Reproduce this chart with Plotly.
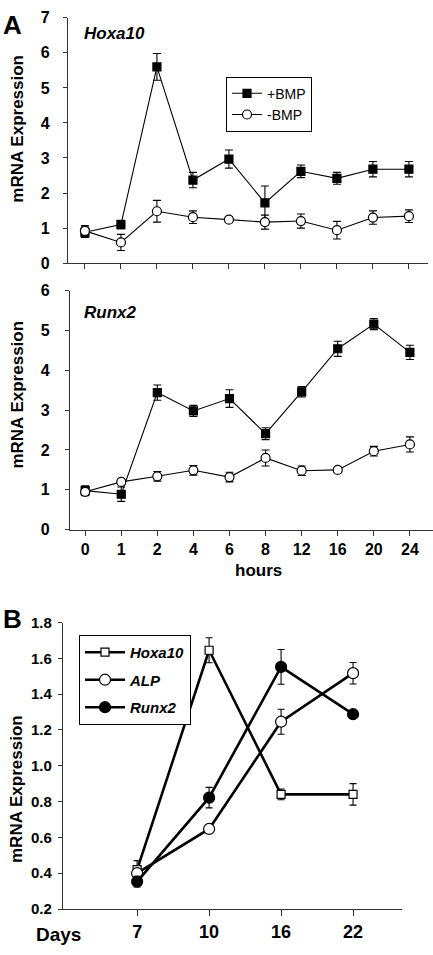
import plotly.graph_objects as go

W, H = 433, 955

# ---------------- data ----------------
hours = ["0", "1", "2", "4", "6", "8", "12", "16", "20", "24"]

hoxa_plus = [0.88, 1.1, 5.6, 2.37, 2.97, 1.72, 2.62, 2.42, 2.68, 2.68]
hoxa_plus_err = [0.15, 0.12, 0.38, 0.22, 0.26, 0.48, 0.18, 0.17, 0.22, 0.22]
hoxa_minus = [0.92, 0.59, 1.48, 1.31, 1.24, 1.17, 1.2, 0.94, 1.3, 1.34]
hoxa_minus_err = [0.15, 0.23, 0.31, 0.18, 0.08, 0.2, 0.2, 0.25, 0.19, 0.18]

runx_plus = [0.98, 0.89, 3.44, 2.98, 3.29, 2.41, 3.46, 4.54, 5.16, 4.45]
runx_plus_err = [0.12, 0.18, 0.19, 0.14, 0.22, 0.15, 0.13, 0.19, 0.14, 0.18]
runx_minus = [0.95, 1.2, 1.34, 1.49, 1.32, 1.8, 1.48, 1.5, 1.97, 2.14]
runx_minus_err = [0.1, 0.05, 0.12, 0.12, 0.12, 0.2, 0.12, 0.06, 0.12, 0.19]

days = ["7", "10", "16", "22"]
b_hoxa = [0.42, 1.645, 0.84, 0.84]
b_hoxa_err = [0.05, 0.07, 0.03, 0.06]
b_alp = [0.40, 0.647, 1.246, 1.517]
b_alp_err = [0.02, 0.01, 0.07, 0.06]
b_runx = [0.353, 0.822, 1.552, 1.288]
b_runx_err = [0.03, 0.057, 0.097, 0.0]

FONT = "Liberation Sans, Arial, sans-serif"
AX = "#333333"


def px_x(p):
    return p / W


def px_y(p):
    return 1 - p / H


fig = go.Figure()


def add(x, y, err, name, symbol, fill, xa, ya, legend, lw, ms, cap,
        showlegend=True, group=None):
    fig.add_trace(go.Scatter(
        x=x, y=y, name=name, xaxis=xa, yaxis=ya, legend=legend,
        mode="lines+markers", showlegend=showlegend, legendgroup=group,
        line=dict(color="black", width=lw),
        marker=dict(symbol=symbol, size=ms, color=fill,
                    line=dict(color="black", width=1.2)),
        error_y=dict(type="data", array=err, visible=True, color="black",
                     thickness=1.1, width=cap),
        cliponaxis=False,
    ))


# Panel A top (Hoxa10)
add(hours, hoxa_plus, hoxa_plus_err, "+BMP", "square", "black", "x", "y", "legend", 1.1, 8, 4)
add(hours, hoxa_minus, hoxa_minus_err, "-BMP", "circle", "white", "x", "y", "legend", 1.1, 9, 4)
# Panel A middle (Runx2)
add(hours, runx_plus, runx_plus_err, "+BMP", "square", "black", "x2", "y2", "legend", 1.1, 8, 4, False)
add(hours, runx_minus, runx_minus_err, "-BMP", "circle", "white", "x2", "y2", "legend", 1.1, 9, 4, False)
# Panel B
add(days, b_hoxa, b_hoxa_err, "<b><i>Hoxa10</i></b>", "square", "white", "x3", "y3", "legend2", 2.6, 8, 3.5, group="h")
add(days, b_alp, b_alp_err, "<b><i>ALP</i></b>", "circle", "white", "x3", "y3", "legend2", 2.6, 11, 3.5, group="a")
add(days, b_runx, b_runx_err, "<b><i>Runx2</i></b>", "circle", "black", "x3", "y3", "legend2", 2.6, 11, 3.5, group="r")

tickfont = dict(family=FONT, size=16, color="black", weight="bold")

common_y = dict(showline=True, linecolor=AX, linewidth=1.2, ticks="outside",
                ticklen=4, tickcolor=AX, showgrid=False, zeroline=False,
                tickfont=tickfont, fixedrange=True)
common_x = dict(showline=True, linecolor=AX, linewidth=1.2, ticks="outside",
                ticklen=5, tickcolor=AX, showgrid=False, zeroline=False,
                tickfont=tickfont, type="category", fixedrange=True)

fig.update_layout(
    width=W, height=H,
    margin=dict(l=0, r=0, t=0, b=0),
    paper_bgcolor="white", plot_bgcolor="white",
    xaxis=dict(common_x, domain=[px_x(68), px_x(428)], range=[-0.47, 9.53],
               anchor="y", showticklabels=False),
    yaxis=dict(common_y, domain=[px_y(259), px_y(9)], range=[0, 7],
               anchor="x", dtick=1, ticklabelstandoff=10),
    xaxis2=dict(common_x, domain=[px_x(70), px_x(433)], range=[-0.42, 9.64],
                anchor="y2"),
    yaxis2=dict(common_y, domain=[px_y(530.7), px_y(287)], range=[0, 6],
                anchor="x2", dtick=1, ticklabelstandoff=12),
    xaxis3=dict(common_x, domain=[px_x(63), px_x(402)], range=[-1.03, 3.68],
                anchor="y3", ticklen=6, tickfont=dict(tickfont, size=18)),
    yaxis3=dict(common_y, domain=[px_y(917.3), px_y(625.3)], range=[0.2, 1.8],
                anchor="x3", dtick=0.2, tickformat=".1f", ticklabelstandoff=3,
                tickfont=dict(tickfont, size=15)),
    legend=dict(x=px_x(226), y=px_y(69), xanchor="left", yanchor="top",
                bordercolor="black", borderwidth=1, bgcolor="white",
                font=dict(family=FONT, size=14, color="black"),
                itemwidth=30),
    legend2=dict(x=px_x(79), y=px_y(638), xanchor="left", yanchor="top",
                 bordercolor="black", borderwidth=1, bgcolor="white",
                 font=dict(family=FONT, size=15, color="black"),
                 tracegroupgap=5, itemwidth=40),
    showlegend=True,
)

ann_font = dict(family=FONT, color="black", weight="bold")
anns = [
    dict(text="A", x=px_x(1), y=px_y(16), font=dict(ann_font, size=26), xanchor="left"),
    dict(text="B", x=px_x(1), y=px_y(622), font=dict(ann_font, size=26), xanchor="left"),
    dict(text="<i>Hoxa10</i>", x=px_x(82), y=px_y(25), font=dict(ann_font, size=17), xanchor="left"),
    dict(text="<i>Runx2</i>", x=px_x(82), y=px_y(309), font=dict(ann_font, size=17), xanchor="left"),
    dict(text="hours", x=px_x(258), y=px_y(572), font=dict(ann_font, size=17), xanchor="center"),
    dict(text="Days", x=px_x(58), y=px_y(943), font=dict(ann_font, size=19), xanchor="center"),
    dict(text="mRNA Expression", x=px_x(18), y=px_y(122), font=dict(ann_font, size=17),
         textangle=-90, xanchor="center"),
    dict(text="mRNA Expression", x=px_x(18), y=px_y(393), font=dict(ann_font, size=17),
         textangle=-90, xanchor="center"),
    dict(text="mRNA Expression", x=px_x(16), y=px_y(795), font=dict(ann_font, size=17),
         textangle=-90, xanchor="center"),
]
for a in anns:
    a.update(xref="paper", yref="paper", showarrow=False, yanchor="middle")
    fig.add_annotation(**a)

fig.write_html("out.html", config={"displayModeBar": False},
               post_script="document.body.style.margin='0';")
